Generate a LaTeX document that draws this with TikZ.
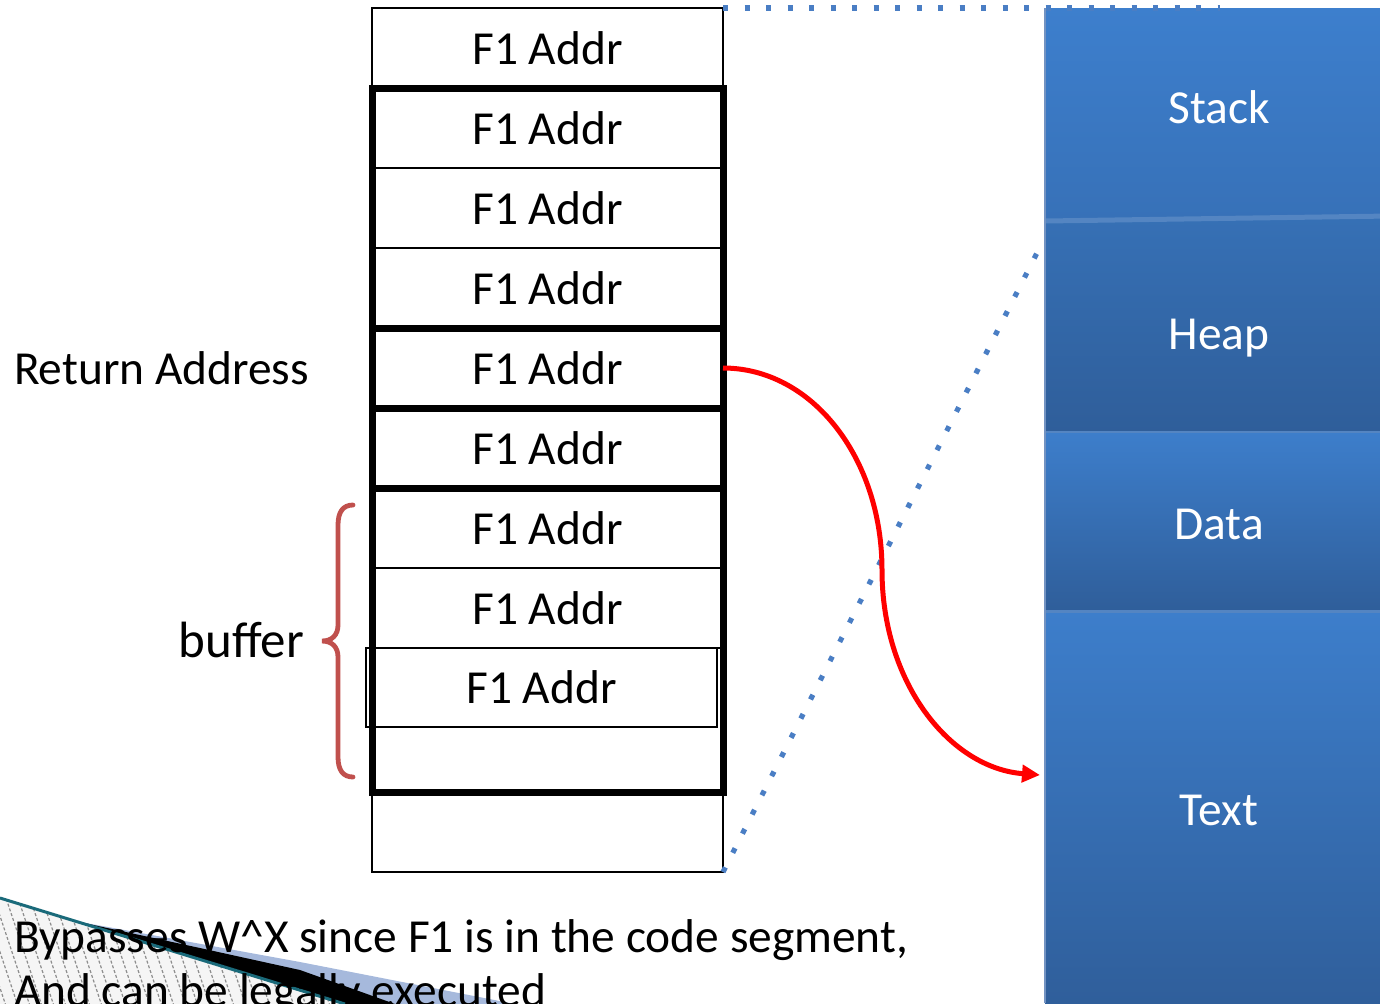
\documentclass[tikz,border=0pt]{standalone}
\usepackage{fontspec}
\setmainfont{Carlito}
\usetikzlibrary{arrows.meta}
\definecolor{dotblue}{HTML}{4A7EC4}
\definecolor{bracered}{HTML}{C0504D}
\definecolor{segtopA}{HTML}{3D7FCD}
\definecolor{segbotA}{HTML}{3771B8}
\definecolor{segtopB}{HTML}{3670B5}
\definecolor{segtop}{HTML}{3D7ECB}
\definecolor{segbot}{HTML}{2F5E9A}
\definecolor{seplight}{HTML}{5485C2}
\definecolor{edgeblue}{HTML}{7393C2}
\definecolor{tealline}{HTML}{1A6A7A}
\definecolor{wedgeblue}{HTML}{A6B9DC}
\definecolor{hatchgrey}{HTML}{8C8C8C}
\begin{document}
\begin{tikzpicture}[x=0.5pt,y=-0.5pt,
  txt/.style={font=\fontsize{23.7}{28}\selectfont, inner sep=0, outer sep=0},
  cell/.style={txt, draw=black, line width=0.8pt, minimum width=175.5pt, minimum height=40pt},
  thickbox/.style={draw=black, line width=3.5pt},
  seg/.style={minimum width=174pt, inner sep=0, outer sep=0},
  seglabel/.style={txt, text=white},
  dotline/.style={draw=dotblue, line width=2.6pt, dash pattern=on 2.6pt off 8.15pt},
  redarrow/.style={draw=red, line width=2.5pt, -{Triangle[length=9pt,width=8.5pt]}},
  bracestyle/.style={draw=bracered, line width=2.4pt, line cap=round},
  hatchline/.style={draw=hatchgrey, line width=0.6pt, dash pattern=on 1.5pt off 1pt},
]
\useasboundingbox (0,0) rectangle (1380,1003);
\clip (0,0) rectangle (1380,1003);

% memory segments
\node[seg, top color=segtopA, bottom color=segbotA, minimum height=105.5pt] (stackseg) at (1219,113.5) {};
\node[seg, top color=segtopB, bottom color=segbot, minimum height=106.5pt] (heapseg) at (1219,325.5) {};
\node[seg, top color=segtop, bottom color=segbot, minimum height=89.5pt] (dataseg) at (1219,521.5) {};
\node[seg, top color=segtop, bottom color=segbot, minimum height=199.5pt] (textseg) at (1219,810.5) {};
\draw[seplight, line width=2.5pt] (1045,221) -- (1390,216);
\draw[seplight, line width=1pt] (1045,432) -- (1390,432);
\draw[seplight, line width=1.5pt] (1045,611) -- (1390,611);
\draw[edgeblue, line width=0.6pt] (1045,8) -- (1045,1003);
\node[seglabel] (stacklbl) at (1219,107) {Stack};
\node[seglabel] (heaplbl) at (1219,338) {Heap};
\node[seglabel] (datalbl) at (1219,524) {Data};
\node[seglabel] (textlbl) at (1219,810) {Text};

% stack cells
\node[cell] (r0) at (547.5,48) {F1 Addr};
\node[cell] (r1) at (547.5,128) {F1 Addr};
\node[cell] (r2) at (547.5,208) {F1 Addr};
\node[cell] (r3) at (547.5,288) {F1 Addr};
\node[cell] (r4) at (547.5,368) {F1 Addr};
\node[cell] (r5) at (547.5,448) {F1 Addr};
\node[cell] (r6) at (547.5,528) {F1 Addr};
\node[cell] (r7) at (547.5,608) {F1 Addr};
\node[cell, minimum height=39.5pt] (r8) at (541.5,687.5) {F1 Addr};
\node[cell] (rb) at (547.5,832) {};

\draw[thickbox] (r1.north west) rectangle (r3.south east);
\draw[thickbox] (r4.north west) rectangle (r4.south east);
\draw[thickbox] (r5.north west) rectangle (r5.south east);
\draw[thickbox] (r6.north west) rectangle (rb.north east);

% labels
\node[txt, anchor=base west] (retlbl) at (14,384) {Return Address};
\node[txt, font=\fontsize{25.5}{30}\selectfont, anchor=base east] (buflbl) at (304,657) {buffer};

% brace
\draw[bracestyle] (353,505) .. controls (343,505) and (338,512) .. (338,525) -- (338,625)
  .. controls (338,635) and (332,641) .. (322,641)
  .. controls (332,641) and (338,647) .. (338,657) -- (338,757)
  .. controls (338,770) and (343,777) .. (353,777);

% dotted lines
\coordinate (topend) at (1220,8);
\coordinate (diagend) at (1042,243);
\draw[dotline] (r0.north east) -- (topend);
\draw[dotline] (rb.south east) -- (diagend);

% red arrow
\coordinate (bend) at (882,570);
\coordinate (tgt) at (1040,775);
\draw[redarrow] (r4.east) .. controls (812,368) and (882,458) .. (bend)
  .. controls (882,683) and (950,768) .. (tgt);

% lower-left fragment
\fill[white!96!black] (0,898) -- (345,1004) -- (0,1004) -- cycle;
\begin{scope}
  \clip (0,898) -- (345,1004) -- (0,1004) -- cycle;
  \foreach \i in {-12,...,32} \draw[hatchline] (\i*12,880) -- ++(42,126);
\end{scope}
\fill[wedgeblue] (75,921) -- (300,962) -- (515,1004) -- (395,1004) -- cycle;
\fill[black] (75,921) -- (200,948) -- (300,970) -- (395,1004) -- (345,1004) -- cycle;
\draw[tealline, line width=1.5pt] (0,898) -- (345,1004);

% bottom text
\node[txt, anchor=base west] (line1) at (14,952) {Bypasses W\^{}X since F1 is in the code segment,};
\node[txt, anchor=base west] (line2) at (14,1006) {And can be legally executed};
\end{tikzpicture}
\end{document}
